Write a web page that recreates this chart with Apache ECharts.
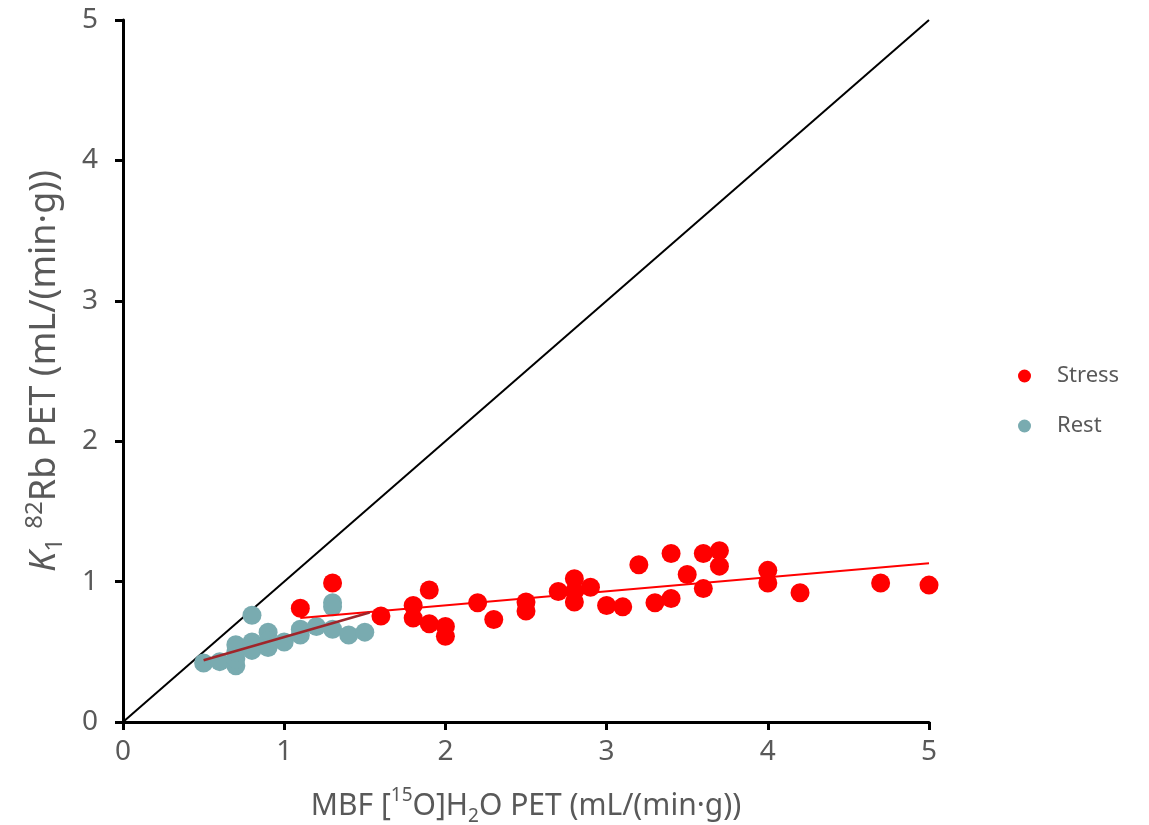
<!DOCTYPE html>
<html>
<head>
<meta charset="utf-8">
<script src="https://cdn.jsdelivr.net/npm/echarts@6/dist/echarts.min.js"></script>
<style>
  html, body { margin: 0; padding: 0; background: #ffffff; overflow: hidden; }
  #chart { width: 1149px; height: 825px; }
</style>
</head>
<body>
<div id="chart"></div>
<script>
// Stress measurements: [MBF water PET, K1 Rb PET]
const stressPoints = [
  [1.1, 0.81], [1.3, 0.99], [1.6, 0.755], [1.8, 0.83], [1.8, 0.74],
  [1.9, 0.94], [1.9, 0.70], [2.0, 0.68], [2.0, 0.61], [2.2, 0.85],
  [2.3, 0.73], [2.5, 0.855], [2.5, 0.79], [2.7, 0.93], [2.8, 1.02],
  [2.8, 0.93], [2.8, 0.855], [2.9, 0.96], [3.0, 0.83], [3.1, 0.82],
  [3.2, 1.12], [3.3, 0.85], [3.4, 1.20], [3.4, 0.88], [3.5, 1.05],
  [3.6, 1.20], [3.6, 0.95], [3.7, 1.22], [3.7, 1.11], [4.0, 1.08],
  [4.0, 0.99], [4.2, 0.92], [4.7, 0.99], [5.0, 0.975]
];

// Rest measurements
const restPoints = [
  [0.5, 0.42], [0.6, 0.43], [0.7, 0.40], [0.7, 0.45], [0.7, 0.50],
  [0.7, 0.55], [0.8, 0.76], [0.8, 0.57], [0.8, 0.51], [0.9, 0.64],
  [0.9, 0.58], [0.9, 0.53], [1.0, 0.57], [1.1, 0.62], [1.1, 0.66],
  [1.2, 0.68], [1.3, 0.85], [1.3, 0.82], [1.3, 0.66], [1.4, 0.62],
  [1.5, 0.64]
];

// Line of identity and the two regression fits
const identityLine = [[0, 0], [5, 5]];
const stressFit = [[1.1, 0.74], [5.0, 1.13]];
const restFit = [[0.5, 0.44], [1.53, 0.78]];

const axisTicks = [0, 1, 2, 3, 4, 5];

const FONT = '"Noto Sans", "Open Sans", sans-serif';
const GREY = '#595959';

const chart = echarts.init(document.getElementById('chart'), null, { renderer: 'canvas' });

const option = {
  backgroundColor: '#ffffff',
  animation: false,
  grid: {
    left: 123, right: 220, top: 20, bottom: 103,
    containLabel: false,
    outerBoundsMode: 'none'
  },
  legend: {
    data: ['Stress', 'Rest'],
    orient: 'vertical',
    left: 1013,
    top: 358,
    itemGap: 24,
    itemWidth: 13,
    itemHeight: 13,
    icon: 'circle',
    textStyle: { color: GREY, fontSize: 22, lineHeight: 26, fontFamily: FONT, padding: [0, 0, 0, 21] }
  },
  xAxis: {
    type: 'value',
    min: axisTicks[0],
    max: axisTicks[axisTicks.length - 1],
    interval: 1,
    name: 'MBF [{sup|15}O]H{sub|2}O PET (mL/(min·g))',
    nameLocation: 'middle',
    nameGap: 64,
    nameTextStyle: {
      color: GREY, fontSize: 30, fontFamily: FONT, lineHeight: 40,
      rich: {
        sup: { fontSize: 19, color: GREY, fontFamily: FONT, verticalAlign: 'top', lineHeight: 40 },
        sub: { fontSize: 19, color: GREY, fontFamily: FONT, verticalAlign: 'bottom', lineHeight: 28 }
      }
    },
    axisLine: { show: true, onZero: false, lineStyle: { color: '#000', width: 3 } },
    axisTick: { show: true, inside: false, length: 8, lineStyle: { color: '#000', width: 3 } },
    axisLabel: { color: GREY, fontSize: 28, fontFamily: FONT, margin: 16 },
    splitLine: { show: false }
  },
  yAxis: {
    type: 'value',
    min: axisTicks[0],
    max: axisTicks[axisTicks.length - 1],
    interval: 1,
    name: '{i|K}{sub|1} {sup|82}Rb PET (mL/(min·g))',
    nameLocation: 'middle',
    nameRotate: 90,
    nameGap: 56,
    nameTextStyle: {
      color: GREY, fontSize: 36, fontFamily: FONT, lineHeight: 44,
      rich: {
        i: { fontSize: 36, fontStyle: 'italic', color: GREY, fontFamily: FONT, lineHeight: 44 },
        sup: { fontSize: 24, color: GREY, fontFamily: FONT, verticalAlign: 'top', lineHeight: 44 },
        sub: { fontSize: 24, color: GREY, fontFamily: FONT, verticalAlign: 'bottom', lineHeight: 32 }
      }
    },
    axisLine: { show: true, onZero: false, lineStyle: { color: '#000', width: 3 } },
    axisTick: { show: true, inside: false, length: 8, lineStyle: { color: '#000', width: 3 } },
    axisLabel: { color: GREY, fontSize: 28, fontFamily: FONT, margin: 25 },
    splitLine: { show: false }
  },
  series: [
    {
      name: 'Identity',
      type: 'line',
      data: identityLine,
      symbol: 'none',
      lineStyle: { color: '#000', width: 2 },
      z: 1,
      silent: true
    },
    {
      name: 'Stress',
      type: 'scatter',
      data: stressPoints,
      symbol: 'circle',
      symbolSize: 19,
      itemStyle: { color: '#ff0000', opacity: 1 },
      z: 3
    },
    {
      name: 'Rest',
      type: 'scatter',
      data: restPoints,
      symbol: 'circle',
      symbolSize: 19,
      itemStyle: { color: '#79abb0', opacity: 1 },
      z: 2
    },
    {
      name: 'Stress fit',
      type: 'line',
      data: stressFit,
      symbol: 'none',
      lineStyle: { color: '#ff0000', width: 2 },
      z: 4,
      silent: true
    },
    {
      name: 'Rest fit',
      type: 'line',
      data: restFit,
      symbol: 'none',
      lineStyle: { color: '#a0252a', width: 2.5 },
      z: 4,
      silent: true
    }
  ]
};

chart.setOption(option);
</script>
</body>
</html>
